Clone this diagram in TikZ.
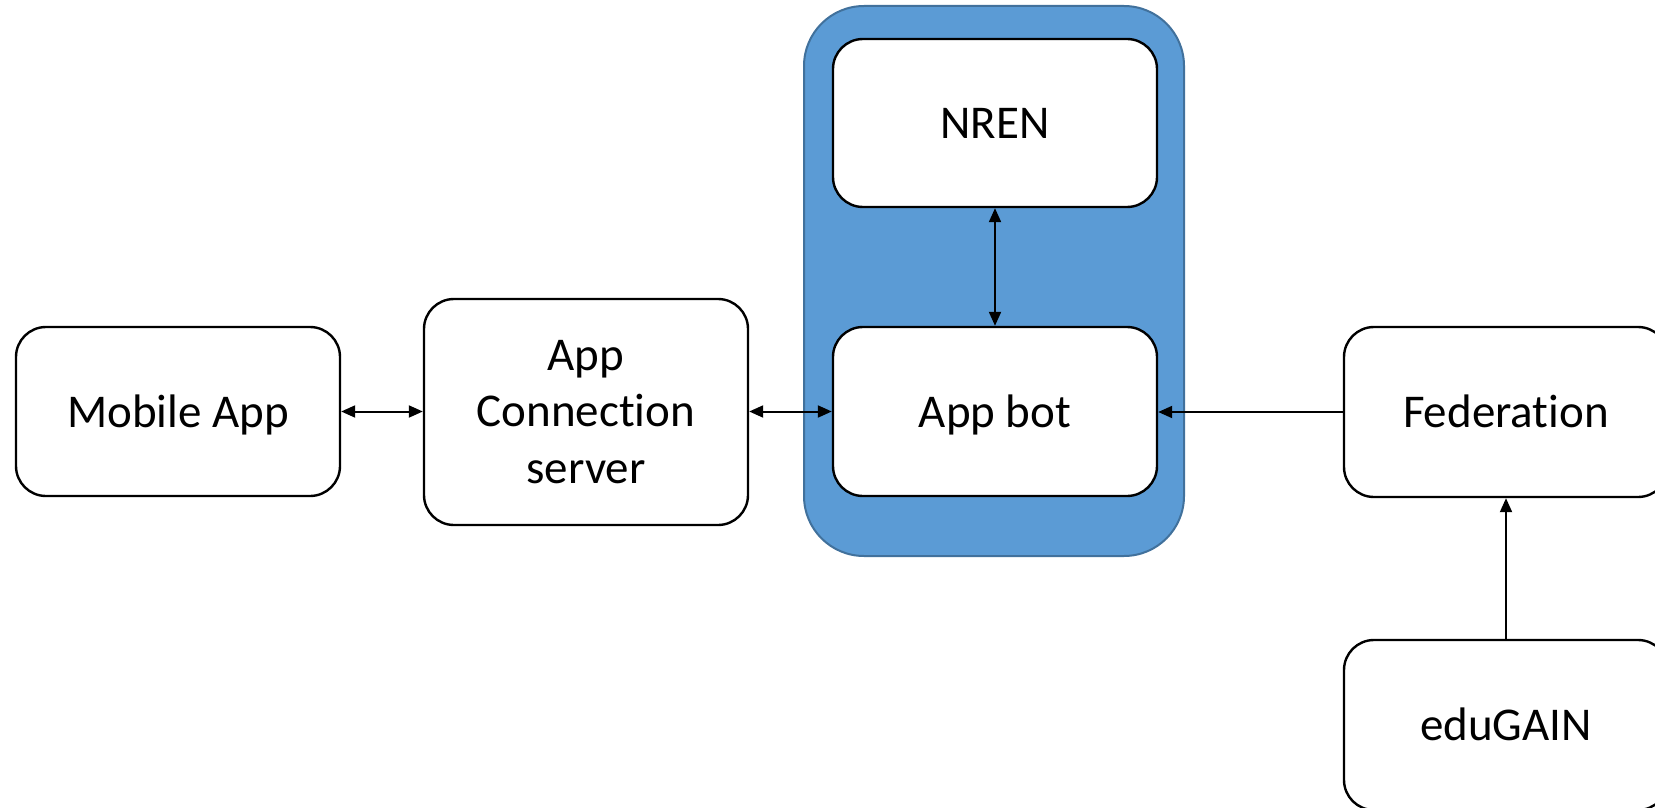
\documentclass[tikz,border=0pt]{standalone}
\usepackage{fontspec}
\setmainfont{Carlito}[Ligatures=NoCommon]
\usetikzlibrary{arrows.meta}
\definecolor{boxblue}{HTML}{5B9BD5}
\definecolor{boxblueedge}{HTML}{41719C}
\begin{document}
\begin{tikzpicture}[x=0.5pt,y=-0.5pt,
  blk/.style={draw=black,line width=1.2pt,fill=white,rounded corners=15pt,
    minimum width=162pt,inner sep=0pt,align=center,
    font=\fontsize{23.5}{28.3}\selectfont},
  one/.style={text height=15.5pt,text depth=0pt},
  grp/.style={draw=boxblueedge,line width=1pt,fill=boxblue,rounded corners=30pt,
    minimum width=190pt,minimum height=275pt,inner sep=0pt},
  conn/.style={line width=1pt,draw=black},
  tip/.tip={Triangle[length=7pt,width=6pt]}]
\useasboundingbox (0,0) rectangle (1655,808);
\fill[white] (0,0) rectangle (1655,808);
\node[grp] (grp) at (994,281) {};
\node[blk,one,minimum height=84pt] (nren) at (995,123) {NREN};
\node[blk,one,minimum height=84.5pt] (bot) at (995,411.5) {App bot};
\node[blk,one,minimum height=84.5pt] (mob) at (178,411.5) {Mobile App};
\node[blk,minimum height=113pt] (acs) at (586,412) {App\\Connection\\server};
\node[blk,one,minimum height=85pt] (fed) at (1506,412) {Federation};
\node[blk,one,minimum height=85pt] (edu) at (1506,725) {eduGAIN};
\draw[conn,{tip}-{tip}] (mob.east) -- (acs.west |- mob.east);
\draw[conn,{tip}-{tip}] (acs.east |- bot.west) -- (bot.west);
\draw[conn,{tip}-{tip}] (nren.south) -- (bot.north);
\draw[conn,-{tip}] (fed.west) -- (bot.east |- fed.west);
\draw[conn,-{tip}] (edu.north) -- (fed.south);
\end{tikzpicture}
\end{document}
